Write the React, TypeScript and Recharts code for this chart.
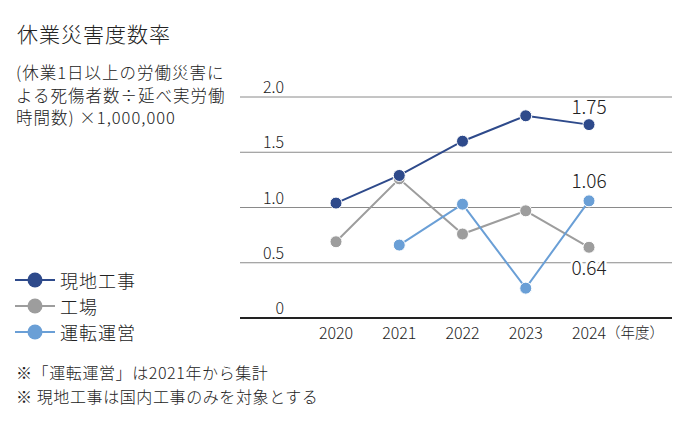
import React from 'react';
import { LineChart, Line, XAxis, YAxis, CartesianGrid, LabelList } from 'recharts';

const years = ['2020', '2021', '2022', '2023', '2024'];
const genchiKouji = [1.04, 1.29, 1.6, 1.83, 1.75];
const koujou = [0.69, 1.26, 0.76, 0.97, 0.64];
const untenUnei: (number | null)[] = [null, 0.66, 1.03, 0.27, 1.06];
const yTicks = [0, 0.5, 1, 1.5, 2];

const seriesNames = ['現地工事', '工場', '運転運営'];
const colors = ['#2e4a8b', '#9d9d9d', '#6a9fd6'];

const FONT = '"Noto Sans CJK JP", "Noto Sans", sans-serif';

const data = years.map((year, i) => ({
  year,
  genchi: genchiKouji[i],
  koujou: koujou[i],
  unten: untenUnei[i],
}));

const lastIndex = years.length - 1;

// value label only on the last point
function makeLabel(dy: number, halo: boolean) {
  return (props: any) => {
    const { x, y, value, index } = props;
    if (index !== lastIndex || value == null) return null;
    return (
      <text
        x={x}
        y={y + dy}
        textAnchor="middle"
        fontSize={19}
        fontWeight={300}
        fontFamily={FONT}
        fill="#222"
        stroke={halo ? '#fff' : 'none'}
        strokeWidth={halo ? 5 : 0}
        paintOrder="stroke"
      >
        {Number(value).toFixed(2)}
      </text>
    );
  };
}

function YTick(props: any) {
  const { y, payload } = props;
  return (
    <text x={284} y={y - 4} textAnchor="end" fontSize={16} fontWeight={300} fontFamily={FONT} fill="#222">
      {payload.value === 0 ? '0' : payload.value.toFixed(1)}
    </text>
  );
}

function XTick(props: any) {
  const { x, y, payload, index } = props;
  return (
    <g>
      <text x={x} y={y + 13} textAnchor="middle" fontSize={16} fontWeight={300} fontFamily={FONT} fill="#222">
        {payload.value}
      </text>
      {index === lastIndex && (
        <text x={x + 17} y={y + 12} fontSize={14.5} fontWeight={300} fontFamily={FONT} fill="#222">
          （年度）
        </text>
      )}
    </g>
  );
}

function LegendRow({ name, color }: { name: string; color: string }) {
  return (
    <div style={{ display: 'flex', alignItems: 'center', height: 26 }}>
      <svg width={46} height={20} style={{ marginLeft: 14 }}>
        <line x1={1} y1={10} x2={41} y2={10} stroke={color} strokeWidth={2} />
        <circle cx={21} cy={10} r={7.5} fill={color} />
      </svg>
      <span style={{ fontSize: 18, letterSpacing: 1, color: '#222' }}>{name}</span>
    </div>
  );
}

export default function App() {
  return (
    <div
      style={{
        position: 'absolute',
        left: 0,
        top: 0,
        width: 690,
        height: 428,
        background: '#fff',
        fontFamily: FONT,
        fontWeight: 300,
        color: '#222',
        overflow: 'hidden',
      }}
    >
      <LineChart
        width={690}
        height={428}
        data={data}
        margin={{ top: 97, right: 18, left: 220, bottom: 80 }}
      >
        <CartesianGrid horizontal vertical={false} stroke="#8a8a8a" strokeWidth={1} />
        <XAxis
          dataKey="year"
          height={30}
          padding={{ left: 96, right: 83 }}
          tickLine={false}
          axisLine={{ stroke: '#222', strokeWidth: 2 }}
          tick={<XTick />}
          interval={0}
        />
        <YAxis
          width={20}
          domain={[0, 2]}
          ticks={yTicks}
          axisLine={false}
          tickLine={false}
          tick={<YTick />}
          interval={0}
        />
        <Line
          dataKey="koujou"
          stroke={colors[1]}
          strokeWidth={2}
          dot={{ r: 6, fill: colors[1], stroke: '#fff', strokeWidth: 1 }}
          isAnimationActive={false}
        >
          <LabelList dataKey="koujou" content={makeLabel(28, true)} />
        </Line>
        <Line
          dataKey="unten"
          stroke={colors[2]}
          strokeWidth={2}
          dot={{ r: 6, fill: colors[2], stroke: '#fff', strokeWidth: 1 }}
          isAnimationActive={false}
        >
          <LabelList dataKey="unten" content={makeLabel(-13, false)} />
        </Line>
        <Line
          dataKey="genchi"
          stroke={colors[0]}
          strokeWidth={2}
          dot={{ r: 6, fill: colors[0], stroke: '#fff', strokeWidth: 1 }}
          isAnimationActive={false}
        >
          <LabelList dataKey="genchi" content={makeLabel(-11, false)} />
        </Line>
      </LineChart>

      {/* Title and note */}
      <div style={{ position: 'absolute', left: 17, top: 18, fontSize: 21, letterSpacing: 1 }}>
        休業災害度数率
      </div>
      <div
        style={{
          position: 'absolute',
          left: 16,
          top: 61,
          fontSize: 16.5,
          lineHeight: '22.5px',
          letterSpacing: 1,
          width: 230,
        }}
      >
        (休業1日以上の労働災害に
        <br />
        よる死傷者数÷延べ実労働
        <br />
        時間数) ×1,000,000
      </div>

      {/* Legend */}
      <div style={{ position: 'absolute', left: 0, top: 267 }}>
        {seriesNames.map((n, i) => (
          <LegendRow key={n} name={n} color={colors[i]} />
        ))}
      </div>

      {/* Footnotes */}
      <div
        style={{
          position: 'absolute',
          left: 16,
          top: 361,
          fontSize: 16,
          lineHeight: '23.5px',
          letterSpacing: 0.6,
        }}
      >
        ※「運転運営」は2021年から集計
        <br />
        ※ 現地工事は国内工事のみを対象とする
      </div>
    </div>
  );
}
